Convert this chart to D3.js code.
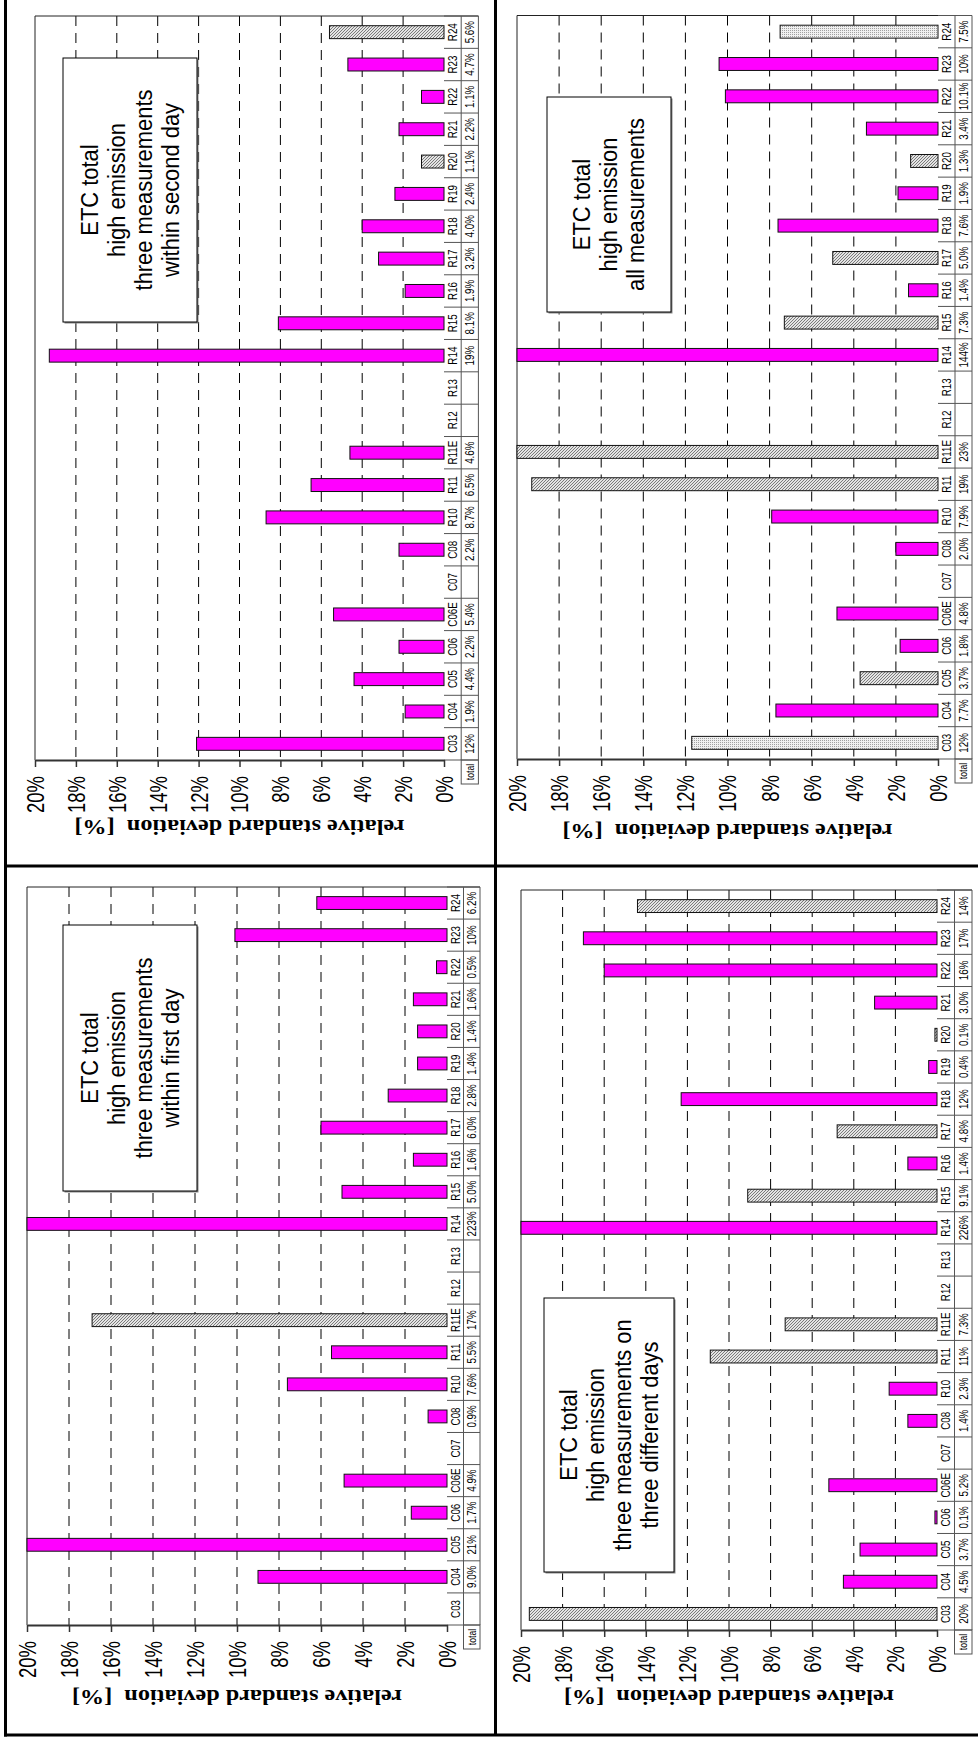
<!DOCTYPE html>
<html>
<head>
<meta charset="utf-8">
<script src="https://cdn.jsdelivr.net/npm/d3@7"></script>
<style>
  body { margin: 0; background: #fff; }
  svg text { font-family: Arial, "Liberation Sans", sans-serif; }
</style>
</head>
<body>
<div id="chart"></div>
<script>
// Categories along the (rotated) category axis, C03 at the bottom
const categories = ['C03', 'C04', 'C05', 'C06', 'C06E', 'C07', 'C08', 'R10', 'R11', 'R11E', 'R12', 'R13',
  'R14', 'R15', 'R16', 'R17', 'R18', 'R19', 'R20', 'R21', 'R22', 'R23', 'R24'];

const valueTicks = [0, 2, 4, 6, 8, 10, 12, 14, 16, 18, 20];

// within second day
const secondDayLabels = ['12%', '1.9%', '4.4%', '2.2%', '5.4%', '', '2.2%', '8.7%', '6.5%', '4.6%', '', '',
  '19%', '8.1%', '1.9%', '3.2%', '4.0%', '2.4%', '1.1%', '2.2%', '1.1%', '4.7%', '5.6%'];
const secondDayValues = [12.1, 1.9, 4.4, 2.2, 5.4, null, 2.2, 8.7, 6.5, 4.6, null, null,
  19.3, 8.1, 1.9, 3.2, 4.0, 2.4, 1.1, 2.2, 1.1, 4.7, 5.6];
const secondDayFills = ['m', 'm', 'm', 'm', 'm', null, 'm', 'm', 'm', 'm', null, null,
  'm', 'm', 'm', 'm', 'm', 'm', 'h', 'm', 'm', 'm', 'h'];

// within first day
const firstDayLabels = ['', '9.0%', '21%', '1.7%', '4.9%', '', '0.9%', '7.6%', '5.5%', '17%', '', '',
  '223%', '5.0%', '1.6%', '6.0%', '2.8%', '1.4%', '1.4%', '1.6%', '0.5%', '10%', '6.2%'];
const firstDayValues = [null, 9.0, 21, 1.7, 4.9, null, 0.9, 7.6, 5.5, 16.9, null, null,
  223, 5.0, 1.6, 6.0, 2.8, 1.4, 1.4, 1.6, 0.5, 10.1, 6.2];
const firstDayFills = [null, 'm', 'm', 'm', 'm', null, 'm', 'm', 'm', 'h', null, null,
  'm', 'm', 'm', 'm', 'm', 'm', 'm', 'm', 'm', 'm', 'm'];

// all measurements
const allLabels = ['12%', '7.7%', '3.7%', '1.8%', '4.8%', '', '2.0%', '7.9%', '19%', '23%', '', '',
  '144%', '7.3%', '1.4%', '5.0%', '7.6%', '1.9%', '1.3%', '3.4%', '10.1%', '10%', '7.5%'];
const allValues = [11.7, 7.7, 3.7, 1.8, 4.8, null, 2.0, 7.9, 19.3, 23, null, null,
  144, 7.3, 1.4, 5.0, 7.6, 1.9, 1.3, 3.4, 10.1, 10.4, 7.5];
const allFills = ['d', 'm', 'h', 'm', 'm', null, 'm', 'm', 'h', 'h', null, null,
  'm', 'h', 'm', 'h', 'm', 'm', 'h', 'm', 'm', 'm', 'd'];

// three different days
const daysLabels = ['20%', '4.5%', '3.7%', '0.1%', '5.2%', '', '1.4%', '2.3%', '11%', '7.3%', '', '',
  '226%', '9.1%', '1.4%', '4.8%', '12%', '0.4%', '0.1%', '3.0%', '16%', '17%', '14%'];
const daysValues = [19.6, 4.5, 3.7, 0.1, 5.2, null, 1.4, 2.3, 10.9, 7.3, null, null,
  226, 9.1, 1.4, 4.8, 12.3, 0.4, 0.1, 3.0, 16.0, 17.0, 14.4];
const daysFills = ['h', 'm', 'm', 'm', 'm', null, 'm', 'm', 'h', 'h', null, null,
  'm', 'h', 'm', 'h', 'm', 'm', 'h', 'm', 'm', 'm', 'h'];

const secondDayText = ['ETC total', 'high emission', 'three measurements', 'within second day'];
const firstDayText = ['ETC total', 'high emission', 'three measurements', 'within first day'];
const allText = ['ETC total', 'high emission', 'all measurements'];
const daysText = ['ETC total', 'high emission', 'three measurements on', 'three different days'];

const width = 978;
const height = 1742;

const svg = d3.select('#chart')
  .append('svg')
  .attr('width', width)
  .attr('height', height)
  .attr('viewBox', [0, 0, width, height]);

// the source page was squeezed along the category direction, so text is
// stretched to the measured lengths instead of trusting font widths
function textLen(str, size, family, weight) {
  const t = svg.append('text')
    .style('font-family', family)
    .style('font-size', size + 'px')
    .style('font-weight', weight || 'normal')
    .style('white-space', 'pre')
    .text(str);
  const len = t.node().getComputedTextLength();
  t.remove();
  return len;
}
const sansFamily = 'Arial, "Liberation Sans", sans-serif';
const serifFamily = '"Times New Roman", "Liberation Serif", serif';
const titleText = 'relative standard deviation  [%]';

const kBox = 201 / textLen('three measurements', 24, sansFamily);
const kTick = 37 / textLen('20%', 24, sansFamily);
const kSmall = 18 / textLen('C03', 12.5, sansFamily);
const titleSize = 24 * 330 / textLen(titleText, 24, serifFamily, 'bold');

// fill patterns for the grey bars
const defs = svg.append('defs');
const hatch = defs.append('pattern')
  .attr('id', 'hatch')
  .attr('patternUnits', 'userSpaceOnUse')
  .attr('width', 3).attr('height', 3);
hatch.append('rect').attr('width', 3).attr('height', 3).attr('fill', '#e4e4e4');
hatch.append('path')
  .attr('d', 'M-1,1 l2,-2 M0,3 l3,-3 M2,4 l2,-2')
  .attr('stroke', '#606060')
  .attr('stroke-width', 0.8);

const dots = defs.append('pattern')
  .attr('id', 'dots')
  .attr('patternUnits', 'userSpaceOnUse')
  .attr('width', 2).attr('height', 2);
dots.append('rect').attr('width', 2).attr('height', 2).attr('fill', '#f0f0f0');
dots.append('rect').attr('width', 1).attr('height', 1).attr('fill', '#a0a0a0');

const fillOf = f => f === 'h' ? 'url(#hatch)' : f === 'd' ? 'url(#dots)' : '#ff00ff';

// each chart is drawn turned 90deg: value axis runs right (0%) to left (20%)
function drawPanel(cfg, labels, values, fills, boxLines) {
  const g = svg.append('g');

  const x = d3.scaleLinear().domain([0, 20]).range([cfg.x1, cfg.x0]);
  const y = d3.scaleBand()
    .domain(categories)
    .range([cfg.yBot, cfg.yTop])
    .paddingInner(0.6)
    .paddingOuter(0.3);
  const step = y.step();
  const cw = cfg.cw;
  const tableRight = cfg.x1 + 2 * cw;

  // dashed gridlines
  g.append('g')
    .selectAll('line')
    .data(valueTicks.filter(t => t > 0 && t < 20))
    .join('line')
    .attr('x1', d => x(d)).attr('x2', d => x(d))
    .attr('y1', cfg.yTop).attr('y2', cfg.yBot)
    .attr('stroke', '#000')
    .attr('stroke-width', 1)
    .attr('stroke-dasharray', '10,7');

  // plot border (20% side and top)
  g.append('line')
    .attr('x1', x(20)).attr('x2', x(20))
    .attr('y1', cfg.yTop).attr('y2', cfg.yBot)
    .attr('stroke', '#222');
  g.append('line')
    .attr('x1', x(20)).attr('x2', tableRight)
    .attr('y1', cfg.yTop).attr('y2', cfg.yTop)
    .attr('stroke', '#222');

  // text box
  const [bx0, by0, bx1, by1] = cfg.box;
  g.append('rect')
    .attr('x', bx0 + 1.5).attr('y', by0 + 1.5)
    .attr('width', bx1 - bx0).attr('height', by1 - by0)
    .attr('fill', '#888');
  g.append('rect')
    .attr('x', bx0).attr('y', by0)
    .attr('width', bx1 - bx0).attr('height', by1 - by0)
    .attr('fill', '#fff')
    .attr('stroke', '#000');
  const bcx = (bx0 + bx1) / 2;
  const bcy = (by0 + by1) / 2;
  g.append('g')
    .selectAll('text')
    .data(boxLines)
    .join('text')
    .attr('transform', (d, i) =>
      `translate(${bcx + (i - (boxLines.length - 1) / 2) * 27},${bcy}) scale(1,${kBox}) rotate(-90)`)
    .attr('text-anchor', 'middle')
    .attr('dy', '0.35em')
    .style('font-size', '24px')
    .text(d => d);

  // bars
  const barData = categories
    .map((c, i) => ({ c, v: values[i], f: fills[i] }))
    .filter(d => d.v != null);
  g.append('g')
    .selectAll('rect')
    .data(barData)
    .join('rect')
    .attr('x', d => x(Math.min(d.v, 20)))
    .attr('y', d => y(d.c))
    .attr('width', d => cfg.x1 - x(Math.min(d.v, 20)))
    .attr('height', y.bandwidth())
    .attr('fill', d => fillOf(d.f))
    .attr('stroke', '#111')
    .attr('stroke-width', 1);

  // data table
  const centers = categories.map(c => y(c) + y.bandwidth() / 2);
  const bounds = centers.map(c => c + step / 2).concat([centers[centers.length - 1] - step / 2]);
  const table = g.append('g').attr('stroke', '#555').attr('stroke-width', 1);
  table.selectAll('line.row')
    .data(bounds)
    .join('line')
    .attr('class', 'row')
    .attr('x1', cfg.x1).attr('x2', tableRight)
    .attr('y1', d => d).attr('y2', d => d);
  table.selectAll('line.col')
    .data([cfg.x1 + cw, tableRight])
    .join('line')
    .attr('class', 'col')
    .attr('x1', d => d).attr('x2', d => d)
    .attr('y1', cfg.yTop).attr('y2', cfg.yBot);
  table.append('rect')
    .attr('x', cfg.x1 + cw).attr('y', cfg.yBot)
    .attr('width', cw).attr('height', 24)
    .attr('fill', 'none');

  const small = (sel, cx) => sel
    .attr('transform', (d, i) => `translate(${cx},${centers[i]}) scale(1,${kSmall}) rotate(-90)`)
    .attr('text-anchor', 'middle')
    .attr('dy', '0.35em')
    .style('font-size', '12.5px')
    .text(d => d);

  g.append('g').selectAll('text').data(categories).join('text')
    .call(small, cfg.x1 + cw / 2);
  g.append('g').selectAll('text').data(labels).join('text')
    .call(small, cfg.x1 + 1.5 * cw);

  g.append('text')
    .attr('transform', `translate(${cfg.x1 + 1.5 * cw},${cfg.yBot + 12}) scale(1,${kSmall}) rotate(-90)`)
    .attr('text-anchor', 'middle')
    .attr('dy', '0.35em')
    .style('font-size', '11px')
    .text('total');

  // value axis
  const axis = g.append('g')
    .attr('transform', `translate(0,${cfg.yBot})`)
    .call(d3.axisBottom(x)
      .tickValues(valueTicks)
      .tickFormat(d => d + '%')
      .tickSize(7)
      .tickSizeOuter(0));
  axis.select('.domain').attr('stroke', '#333').attr('stroke-width', 2);
  axis.selectAll('.tick line').attr('stroke', '#333').attr('stroke-width', 1.5);
  axis.selectAll('.tick text')
    .attr('y', null)
    .attr('dy', '0.35em')
    .attr('text-anchor', 'end')
    .attr('transform', `translate(0,16) scale(1,${kTick}) rotate(-90)`)
    .attr('fill', '#000')
    .style('font-family', sansFamily)
    .style('font-size', '24px');

  // axis title
  g.append('text')
    .attr('transform', `translate(${(cfg.x0 + cfg.x1) / 2},${cfg.yBot + cfg.titleOff}) scale(1,0.9) rotate(180)`)
    .attr('text-anchor', 'middle')
    .attr('dy', '0.35em')
    .style('font-family', serifFamily)
    .style('font-weight', 'bold')
    .style('font-size', titleSize + 'px')
    .style('white-space', 'pre')
    .text(titleText);
}

drawPanel({ x0: 35, x1: 444, yTop: 16, yBot: 760, cw: 17.2, titleOff: 68, box: [63, 58, 197, 322] },
  secondDayLabels, secondDayValues, secondDayFills, secondDayText);
drawPanel({ x0: 27, x1: 447, yTop: 887, yBot: 1625, cw: 16.5, titleOff: 73, box: [63, 925, 197, 1191] },
  firstDayLabels, firstDayValues, firstDayFills, firstDayText);
drawPanel({ x0: 517, x1: 938, yTop: 15.5, yBot: 759, cw: 17, titleOff: 73, box: [547, 97, 671, 312] },
  allLabels, allValues, allFills, allText);
drawPanel({ x0: 521, x1: 937, yTop: 890, yBot: 1630, cw: 17.5, titleOff: 68, box: [544, 1298, 674, 1572] },
  daysLabels, daysValues, daysFills, daysText);

// page frame and dividers
const frame = svg.append('g').attr('stroke', '#000').attr('stroke-width', 3);
frame.append('line').attr('x1', 5.5).attr('x2', 5.5).attr('y1', 0).attr('y2', 1736.5);
frame.append('line').attr('x1', 4).attr('x2', width).attr('y1', 1735).attr('y2', 1735);
frame.append('line').attr('x1', 495.5).attr('x2', 495.5).attr('y1', 0).attr('y2', 1735);
frame.append('line').attr('x1', 5).attr('x2', width).attr('y1', 866).attr('y2', 866);
</script>
</body>
</html>
